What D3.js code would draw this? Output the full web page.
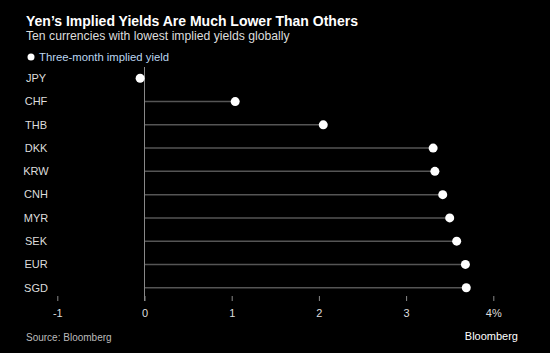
<!DOCTYPE html>
<html>
<head>
<meta charset="utf-8">
<script src="https://cdn.jsdelivr.net/npm/d3@7"></script>
<style>
  body { margin: 0; background: #000; }
  text { font-family: "Liberation Sans", Arial, sans-serif; }
</style>
</head>
<body>
<div id="chart"></div>
<script>
// data
var currencies = ["JPY", "CHF", "THB", "DKK", "KRW", "CNH", "MYR", "SEK", "EUR", "SGD"];
var yields = [-0.05, 1.04, 2.05, 3.31, 3.33, 3.42, 3.50, 3.58, 3.68, 3.69];
var xTicks = [-1, 0, 1, 2, 3, 4];

var W = 550, H = 353;

var svg = d3.select("#chart")
  .append("svg")
  .attr("width", W)
  .attr("height", H)
  .style("background", "#000");

var x = d3.scaleLinear()
  .domain([-1, 4])
  .range([57.3, 493.3]);

var y = d3.scalePoint()
  .domain(currencies)
  .range([78.3, 287.7]);

// title + subtitle
svg.append("text")
  .attr("x", 26).attr("y", 26)
  .text("Yen\u2019s Implied Yields Are Much Lower Than Others")
  .style("font-weight", "bold")
  .style("font-size", "14px")
  .style("fill", "#fff");

svg.append("text")
  .attr("x", 26).attr("y", 40)
  .text("Ten currencies with lowest implied yields globally")
  .style("font-size", "12.2px")
  .style("fill", "#ddd");

// legend
svg.append("circle")
  .attr("cx", 31).attr("cy", 57).attr("r", 3.5)
  .style("fill", "#fff");
svg.append("text")
  .attr("x", 39).attr("y", 61)
  .text("Three-month implied yield")
  .style("font-size", "11.3px")
  .style("fill", "#bcd6f0");

// axis
var axis = svg.append("g")
  .attr("transform", "translate(0,296)")
  .call(d3.axisBottom(x)
    .tickValues(xTicks)
    .tickSize(5)
    .tickPadding(8)
    .tickFormat(function(d) { return d === 4 ? "4%" : d; }));
axis.select(".domain").remove();
axis.selectAll(".tick line").style("stroke", "#888");
axis.selectAll(".tick text")
  .style("font-family", "Liberation Sans, Arial, sans-serif")
  .style("font-size", "11px")
  .style("fill", "#ddd");

// stems
svg.selectAll(".stem")
  .data(currencies)
  .enter()
  .append("line")
  .attr("class", "stem")
  .attr("x1", x(0))
  .attr("x2", function(d, i) { return x(yields[i]); })
  .attr("y1", function(d) { return y(d); })
  .attr("y2", function(d) { return y(d); })
  .style("stroke", "#555")
  .style("stroke-width", 1.5);

// zero line
svg.append("line")
  .attr("x1", x(0)).attr("x2", x(0))
  .attr("y1", 67).attr("y2", 301)
  .style("stroke", "#888")
  .style("stroke-width", 1);

// dots
svg.selectAll(".dot")
  .data(currencies)
  .enter()
  .append("circle")
  .attr("class", "dot")
  .attr("cx", function(d, i) { return x(yields[i]); })
  .attr("cy", function(d) { return y(d); })
  .attr("r", 4.5)
  .style("fill", "#fff");

// category labels
svg.selectAll(".cat")
  .data(currencies)
  .enter()
  .append("text")
  .attr("class", "cat")
  .attr("x", 36)
  .attr("y", function(d) { return y(d); })
  .attr("dy", "0.35em")
  .attr("text-anchor", "middle")
  .text(function(d) { return d; })
  .style("font-size", "11px")
  .style("fill", "#ddd");

// footer
svg.append("text")
  .attr("x", 26).attr("y", 341)
  .text("Source: Bloomberg")
  .style("font-size", "10px")
  .style("fill", "#bbb");

svg.append("text")
  .attr("x", 518).attr("y", 340)
  .attr("text-anchor", "end")
  .text("Bloomberg")
  .style("font-size", "11px")
  .style("fill", "#fff");
</script>
</body>
</html>
